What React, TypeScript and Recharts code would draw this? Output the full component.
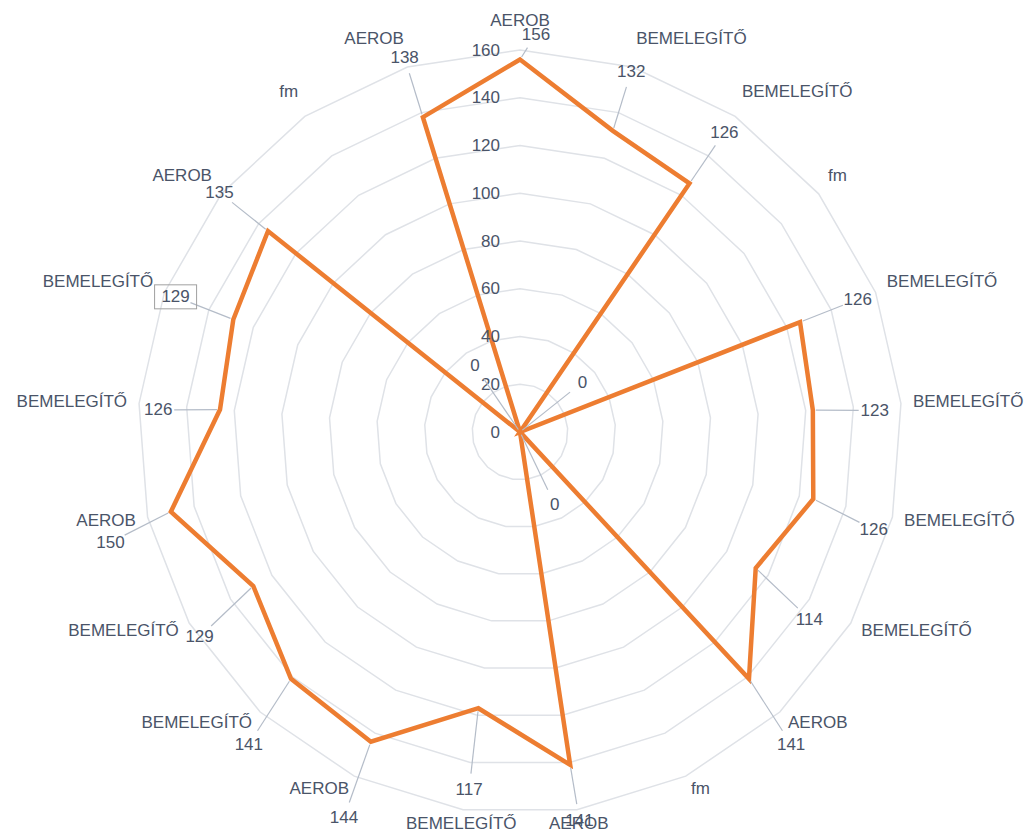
import React from 'react';
import { RadarChart, Radar, PolarGrid, PolarAngleAxis, PolarRadiusAxis } from 'recharts';

const categories = [
  'AEROB', 'BEMELEGÍTŐ', 'BEMELEGÍTŐ', 'fm', 'BEMELEGÍTŐ', 'BEMELEGÍTŐ', 'BEMELEGÍTŐ',
  'BEMELEGÍTŐ', 'AEROB', 'fm', 'AEROB', 'BEMELEGÍTŐ', 'AEROB', 'BEMELEGÍTŐ',
  'BEMELEGÍTŐ', 'AEROB', 'BEMELEGÍTŐ', 'BEMELEGÍTŐ', 'AEROB', 'fm', 'AEROB',
];
const values = [156, 132, 126, 0, 126, 123, 126, 114, 141, 0, 141, 117, 144, 141, 129, 150, 126, 129, 135, 0, 138];
const radiusDomain = [0, 160];
const boxedLabelIndex = 17;

const data = categories.map((c, i) => ({ key: i, name: c, value: values[i] }));

const CX = 520;
const CY = 432;
const OUTER = 382;
const N = categories.length;
const TEXT = '#4a5468';
const FONT = '"Liberation Sans", Arial, sans-serif';

const angleOf = (i: number) => 90 - (i * 360) / N;

const AngleTick = (props: any) => {
  const i = Number(props.payload?.value);
  const a = (angleOf(i) * Math.PI) / 180;
  const c = Math.cos(a);
  const s = Math.sin(a);
  const R = OUTER + 12;
  const x = CX + R * c;
  const y = CY - R * s - (s > 0 ? s * 18 : s * 2);
  const anchor = c > 0.15 ? 'start' : c < -0.15 ? 'end' : 'middle';
  return (
    <text x={x} y={y} textAnchor={anchor} dominantBaseline="central" fill={TEXT} fontSize={17} fontFamily={FONT}>
      {categories[i]}
    </text>
  );
};

const RadiusTick = (props: any) => {
  const { x, y, payload } = props;
  return (
    <text x={x - 20} y={y} textAnchor="end" dominantBaseline="central" fill={TEXT} fontSize={17} fontFamily={FONT}>
      {payload.value}
    </text>
  );
};

const ValueDot = (props: any) => {
  const { cx, cy, index, payload } = props;
  const i = Number(index);
  const a = (angleOf(i) * Math.PI) / 180;
  const c = Math.cos(a);
  const s = Math.sin(a);
  const r = Math.hypot(cx - CX, cy - CY);
  let lr = Math.max(r + 62, 80);
  if (CY - lr * s < 34) lr = (CY - 34) / s;
  let lx = CX + lr * c;
  let ly = CY - lr * s;
  if (lr < r + 40) lx += 16;
  // lower labels sit a little lower, as in the original
  if (r > 1) ly += 20 * Math.min(1, Math.max(0, (0.2 - s) / 0.5));
  if (ly > 820) ly = 820;
  const px = CX + r * c;
  const py = CY - r * s;
  const vx = lx - px;
  const vy = ly - py;
  const len = Math.hypot(vx, vy) || 1;
  const ux = vx / len;
  const uy = vy / len;
  const x1 = px + ux * 3;
  const y1 = py + uy * 3;
  const x2 = px + ux * Math.max(len - 16, 3);
  const y2 = py + uy * Math.max(len - 16, 3);
  const v = payload?.value ?? values[i];
  return (
    <g key={`lbl-${i}`}>
      <line x1={x1} y1={y1} x2={x2} y2={y2} stroke="#b4bcc8" strokeWidth={1.2} />
      {i === boxedLabelIndex && (
        <rect x={lx - 21} y={ly - 12} width={42} height={24} fill="none" stroke="#a0a0a0" strokeWidth={1} />
      )}
      <text x={lx} y={ly} textAnchor="middle" dominantBaseline="central" fill={TEXT} fontSize={17} fontFamily={FONT}>
        {typeof v === 'object' ? values[i] : v}
      </text>
    </g>
  );
};

export default function App() {
  return (
    <div style={{ position: 'absolute', left: 0, top: 0, width: 1035, height: 835, background: '#fff' }}>
      <RadarChart width={1035} height={835} data={data} cx={CX} cy={CY} outerRadius={OUTER} margin={{ top: 0, right: 0, bottom: 0, left: 0 }}>
        <PolarGrid gridType="polygon" radialLines={false} stroke="#dfe2e7" strokeWidth={1.5} />
        <PolarAngleAxis dataKey="key" tick={<AngleTick />} tickLine={false} axisLine={false} />
        <PolarRadiusAxis angle={90} domain={radiusDomain} tickCount={9} axisLine={false} tickLine={false} tick={<RadiusTick />} />
        <Radar
          dataKey="value"
          stroke="#ED7D31"
          strokeWidth={4.5}
          fill="none"
          fillOpacity={0}
          isAnimationActive={false}
          dot={(p: any) => <ValueDot {...p} />}
        />
      </RadarChart>
    </div>
  );
}
